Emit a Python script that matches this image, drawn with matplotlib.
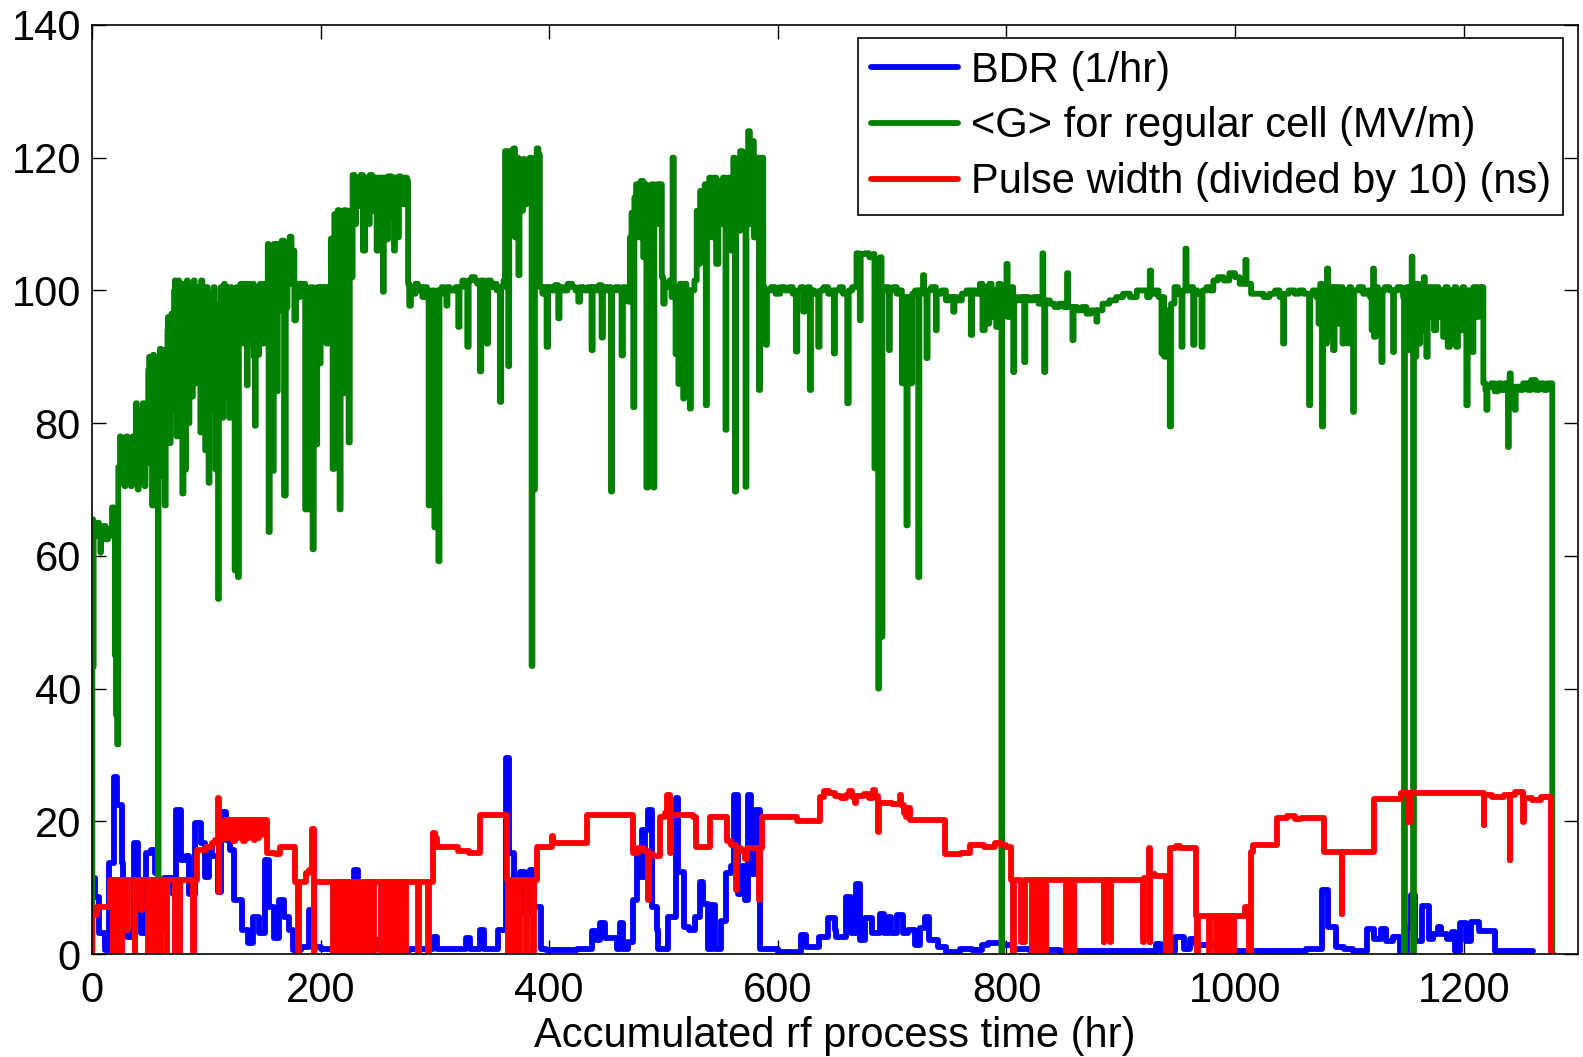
import matplotlib
matplotlib.use("Agg")
import matplotlib.pyplot as plt
import numpy as np

plt.rcParams['font.family'] = ['Liberation Sans', 'DejaVu Sans']

# all series are step samples: (accumulated time in hr, value)

# breakdown rate (1/hr)
bdr = [
    (0, 0), (0.2, 11.4), (2.8, 8.6), (5.8, 3.1), (11.4, 0.6), (15, 13.7), (19, 26.7), (22, 22.4),
    (26, 13.7), (27.4, 10.1), (29.5, 5.6), (30.3, 2.6), (34, 3.1), (37, 16.7), (40, 6.6), (43, 3.1),
    (47, 15.2), (51.5, 15.7), (55, 12.2), (58, 3.6), (63, 11.4), (70.5, 9.1), (73.5, 21.7), (78, 14.2),
    (82.5, 14.7), (85, 9.1), (90, 19.7), (95.5, 16.7), (98.5, 11.6), (102.5, 16.2), (105, 14.7),
    (110, 9.4), (113, 21.4), (117, 17.2), (121, 15.7), (124.5, 8.1), (131, 3.6), (136.5, 1.6),
    (141, 5.6), (146.5, 3.1), (151, 14.2), (155, 7.1), (159, 2.4), (164, 8.1), (168, 5.6), (172.5, 3.6),
    (176, 0.6), (183, 1.1), (190, 6.6), (194, 1.1), (200, 0.8), (220, 5.1), (224, 0.8), (229, 12.7),
    (233, 10.1), (236, 7.1), (240, 2.1), (250, 0.8), (260, 0.6), (278, 0.8), (298, 2.6), (302, 0.8),
    (327, 2.4), (331, 0.8), (339, 3.6), (343, 0.8), (355, 3.6), (362, 29.5), (365, 15.2), (369, 6.1),
    (374, 12.4), (378.5, 6.1), (383, 12.7), (387, 7.1), (392.5, 0.8), (397, 0.6), (424, 0.8),
    (437, 3.4), (441, 2.1), (444.3, 4.6), (448.7, 2.4), (458.9, 0.8), (461.8, 4.6), (464.7, 0.8),
    (469.1, 1.8), (473, 8.1), (476.4, 14.7), (479.3, 11.6), (481, 18.7), (482.5, 11.6), (484, 18.7),
    (486.6, 21.7), (489.5, 7.1), (493.9, 3.6), (495, 0.8), (504, 5.6), (510.5, 23.5), (513, 12.4),
    (517.5, 4.1), (522.5, 3.6), (527.4, 5.6), (531.7, 10.9), (534.7, 7.6), (539, 0.8), (542, 7.4),
    (544.9, 0.8), (550.5, 4.9), (555, 12.2), (559.4, 13.2), (562, 24), (565, 9.1), (567.5, 11.5),
    (569, 13.2), (571.1, 8.1), (573.5, 24), (576.5, 12), (580, 21.7), (584.2, 0.8), (600, 0.3),
    (620, 2.9), (625, 1.1), (636, 2.6), (644, 5.4), (649.8, 3.6), (651, 2.6), (660, 8.6), (664.4, 3.1),
    (668.5, 10.6), (671.7, 2.1), (676, 5.4), (682, 3.1), (689.2, 6.1), (693, 3.1), (696, 5.6),
    (699, 3.1), (704, 5.9), (709.6, 3.1), (714, 3.6), (719.8, 1.4), (724.2, 3.9), (729, 5.6),
    (732, 2.1), (740, 1.1), (747, 0.3), (759, 0.8), (770, 0.6), (779, 1.4), (784, 1.6), (797, 1.4),
    (805.8, 0.8), (820, 0.6), (846.6, 0.4), (930.7, 1.5), (935.2, 0.5), (947.3, 2.5), (954.9, 0.8),
    (961, 2.3), (965.5, 1.3), (988.2, 0.5), (1062.4, 0.8), (1076, 9.6), (1081.5, 4.1), (1088.1, 1),
    (1095.7, 0.8), (1103.3, 0.5), (1115.4, 3.8), (1121.4, 2.3), (1127.5, 3.8), (1132, 2),
    (1138.1, 2.5), (1144.2, 0.25), (1150.2, 4.1), (1154.2, 8.9), (1157.8, 2), (1163.9, 7.3),
    (1169.9, 2.3), (1172.9, 3), (1177.5, 4.1), (1180.5, 3), (1185, 2.3), (1189.6, 3.3),
    (1192.6, 0.5), (1197.2, 4.6), (1201.7, 2), (1206.2, 4.8), (1213.8, 3.5), (1227.5, 0.5),
    (1261, 0.5),
]

# <G> for regular cell (MV/m)
grad = [
    (0, 0), (0.3, 44), (0.6, 65.5), (1.0, 43.3), (1.4, 64), (3, 63), (4.5, 65), (6, 63), (7.3, 60.5),
    (7.8, 63), (10, 64.5), (12, 62.5), (14, 63), (16, 64), (17.5, 67.3), (19, 64), (20, 45), (21, 36),
    (22, 31.6), (23, 73.4), (24.5, 78), (25.3, 72), (26, 71), (26.5, 76), (27, 77), (27.8, 71),
    (28.5, 70.5), (29.2, 77), (30, 78), (31, 72), (31.7, 77.5), (32.5, 77), (33.2, 71), (34, 70.5),
    (34.8, 77), (35.5, 78), (36.2, 71.5), (37, 71), (37.8, 78), (38.5, 83), (39.2, 72), (40, 70),
    (40.8, 80), (41.5, 82), (42.2, 73), (43, 71), (43.8, 81), (44.5, 83), (45.2, 72), (46, 70.5),
    (46.8, 82), (47.5, 83), (48, 76), (48.5, 74), (49.2, 88), (50, 90), (50.8, 77), (51.5, 75),
    (52.5, 67.6), (53.5, 90.3), (54.2, 80), (55, 67.6), (56, 89.5), (56.6, 78), (57.2, 70), (57.7, 0),
    (58.2, 72), (59.5, 91.2), (60.2, 82), (61, 78), (61.8, 90), (62.5, 91), (63.6, 67.6), (64.5, 90),
    (65.5, 80), (66, 94), (66.5, 96), (67.2, 84), (68, 77), (68.8, 95), (69.5, 96.5), (70.2, 85),
    (71, 82), (71.8, 100), (72.5, 101.5), (73.2, 84), (74, 78), (74.8, 100), (75.5, 101.5), (76.2, 88),
    (77, 85), (78, 101), (79, 69.4), (80, 100.5), (80.8, 86), (81.5, 73), (82.2, 99), (83, 101.5),
    (83.8, 88), (84.5, 80), (85.2, 99), (86, 100.5), (86.8, 90), (87.5, 84), (88.2, 100), (89, 101.5),
    (89.8, 91), (90.5, 86), (91.2, 99), (92, 100.5), (92.8, 90), (93.5, 86), (94.8, 78.6),
    (95.5, 101.5), (96.5, 88), (97.5, 100.5), (98.2, 87), (99, 75.9), (99.8, 98), (100.5, 100.5),
    (101.2, 84), (102, 71), (102.8, 97), (103.5, 99.5), (104.2, 88), (105, 82), (105.8, 98),
    (106.5, 100.5), (107.2, 86), (108, 73), (108.8, 95), (109.5, 80), (110.3, 53.5), (111, 85),
    (111.8, 98), (112.5, 100.5), (113.2, 88), (114, 80.8), (114.8, 99), (115.5, 101), (116.2, 90),
    (117, 84), (117.8, 99), (118.5, 100.5), (119.2, 88), (120, 80.8), (120.8, 98), (121.5, 100.5),
    (122.2, 90), (123, 85), (124.8, 57.8), (125.5, 90), (126.5, 100.5), (127.7, 56.8), (128.5, 92),
    (129.2, 99), (130, 101), (131, 95), (132, 92), (133, 99), (134, 101), (135.5, 85.7), (136.2, 99),
    (137, 101), (138, 95), (139, 92), (139.8, 99), (140.5, 101), (141.5, 90), (142.5, 79.6),
    (143.2, 98), (144, 100.5), (144.8, 94), (145.5, 90.3), (146.2, 99), (147, 101), (148, 95),
    (149, 92), (150, 99), (151, 101), (152.5, 92), (153.8, 107),
    (154.5, 63.6), (155.5, 105), (157.5, 72.8), (159, 107), (161, 84.8), (162.5, 107), (164, 97),
    (166, 107.5), (168, 69.1), (169.5, 97.4), (171, 107), (173, 108.1), (174.5, 101), (175.5, 106),
    (177, 95.5), (178.5, 101), (180, 99), (182, 101), (184, 99.5), (185.5, 101), (186.5, 67),
    (188.5, 67), (189.5, 99), (191, 100.5), (193, 61), (194, 90), (195.5, 76.8), (197, 100.5),
    (198.5, 89), (200, 100.5), (202, 92.5), (203.5, 100.5), (205, 92), (207, 100.5), (209, 107.8),
    (210.5, 73.1), (212, 111.5), (213.5, 75.9), (215, 112.1), (216.6, 67), (217.5, 111),
    (219, 84.5), (220.5, 112.1), (222, 97), (223.5, 112), (224.5, 77.1), (225.5, 112), (227, 102),
    (228, 117.4), (229.5, 110), (231, 117), (233, 112.7), (235, 117.4), (237, 106), (239, 117),
    (241, 110), (243, 117.4), (245, 112), (247, 117), (249, 106), (250.5, 117), (254.5, 99.8),
    (255.3, 117), (257.7, 107.7), (259, 117.2), (262, 111), (263, 117), (264.2, 106), (265, 117),
    (267, 108), (268.5, 117.2), (270, 116.5), (272.3, 113), (273.5, 117), (275.5, 116.5),
    (276.5, 101), (277.5, 97.7), (279, 100.5), (281, 99.5), (283, 101), (285, 100), (287, 100.5),
    (289, 99), (291, 100.5), (293, 99.5), (294.5, 67.6), (295.5, 99), (297, 100), (299.5, 64.3),
    (300.5, 99), (302, 100), (303, 59.2), (304, 100), (306, 100.5), (308, 99.5), (310, 97.7),
    (311, 100.5), (313, 100), (318, 100.5), (320.4, 94.5), (321.5, 100.5), (324, 101.5), (326, 101),
    (328.3, 91.5), (329.5, 101.5), (332, 102), (335, 101.5), (337, 101), (339.4, 87.8),
    (340.5, 101.5), (343, 101), (345.2, 92), (346.5, 101.5), (349, 100.5), (352, 101), (354, 100),
    (356.9, 83.2), (358, 100.5), (360, 101.5), (361.3, 121), (362.5, 110), (363.5, 120.5),
    (364.1, 88.6), (365, 121), (367, 112), (368.5, 121.4), (370, 108), (371.5, 120), (373, 102.3),
    (374, 119), (375.5, 112), (377, 119.8), (378.5, 113), (380, 118.5), (381.5, 114), (383, 120),
    (384.6, 43.4), (385.3, 100), (386.6, 70), (387.5, 115), (389, 121.4), (390.5, 120.5),
    (391.8, 100.5), (394, 99.5), (396, 100.5), (397.7, 91.5), (399, 100.5), (402, 100),
    (405, 100.8), (407.9, 95.8), (409, 100.5), (412, 100), (416, 101), (420, 100.5), (423, 100),
    (425.4, 98.3), (427, 100.5), (430, 100), (434, 100.5), (437, 91), (438, 100.5), (441, 100),
    (443.5, 100.8), (445.8, 92.9), (447, 100.5), (450, 100), (452, 100.5), (454, 69.7), (455, 100),
    (458, 100.5), (461, 100), (463.3, 90.2), (464.5, 100.5), (467, 100), (469.1, 98.3), (470.6, 108),
    (472, 111.7), (473.5, 82.4), (474.5, 114), (476, 116), (478, 108), (480, 116.5), (482.2, 105),
    (483.5, 116), (485, 70.3), (486.5, 115), (488, 100), (489.5, 116), (491, 70.3), (492, 112),
    (494, 116), (496, 110), (497.5, 116), (498.5, 102), (499.7, 98), (501, 101), (503, 100.5),
    (505, 101.5), (507, 99), (507.9, 120), (509, 100.5), (510.5, 90.4), (511.5, 100), (513, 85.9),
    (514.3, 101), (517.2, 83.7), (518, 101), (520, 100), (523, 82.2), (524, 100), (527, 101.5),
    (529, 112), (530.5, 104), (532, 115), (534, 106), (536, 116), (537, 82.7), (538, 114), (540, 117),
    (542, 108), (544, 117), (546, 104), (548, 116.5), (550, 110), (552, 117), (554.2, 79), (555, 112),
    (557, 117), (559, 106), (561, 120), (562.4, 69.7), (563.5, 118), (565, 109), (567, 121),
    (569, 112), (570.5, 120), (571.7, 70.4), (572.5, 116), (574, 124), (575.5, 110), (577, 122.5),
    (579, 108), (581, 120), (583.4, 85), (584.5, 119.5), (586, 120), (587.2, 100.5), (588.5, 99),
    (589.5, 91.8), (590.5, 100), (594, 100.5), (598, 99.5), (602, 100.5), (606, 100), (610, 100.5),
    (613, 99.5), (615.8, 90.8), (617, 100), (620, 100.5), (622.2, 96.8), (623.5, 100), (626, 100.5),
    (628, 85), (629, 100), (632, 99.5), (635.3, 91.5), (636.5, 100), (640, 100.5), (644, 99.5),
    (647, 100), (649, 90.5), (650, 100), (654, 100.5), (657, 99.5), (660.7, 83), (662, 100),
    (665, 100.5), (668.8, 105.6), (671, 105), (671.7, 95.5), (672.5, 105.5), (676, 105.6),
    (680, 105), (684, 105.5), (684.5, 73.2), (685.5, 104), (687, 100), (687.8, 40), (688.5, 100),
    (689.5, 105), (690.7, 47.8), (691.5, 100), (694, 100.5), (697.1, 91), (698, 100), (701, 100.5),
    (704, 99.5), (707, 100), (708.5, 86), (710, 99), (712.5, 64.6), (713.5, 99), (716, 86),
    (717.5, 99.5), (720, 100), (722.8, 56.8), (723.8, 100), (727, 102.3), (728, 99.5), (730, 89.8),
    (731, 100), (734, 100.5), (738.2, 94), (739, 99.5), (743, 100), (747, 98.5), (750, 99),
    (753.4, 96.8), (754.5, 99), (757, 98.5), (761, 99.5), (765, 100), (768.8, 93.3), (770, 100),
    (773, 99.5), (776.7, 101), (779, 94), (781, 100.5), (783, 95), (785, 101), (787, 96), (789, 100),
    (791, 94.5), (793, 101), (795, 95), (795.6, 0), (796.3, 97), (798, 100), (800, 104), (801, 96),
    (803, 100.5), (805.9, 87.7), (806.8, 99), (809, 98.5), (812, 99), (815.5, 89.2), (816.5, 99),
    (820, 98.5), (824, 99), (828, 98), (831.5, 105.6), (832.2, 98), (833, 87.7), (834, 98.5),
    (838, 98), (842, 97.5), (846, 98), (850, 97.5), (853, 102.6), (854, 97.5), (857.7, 92.5),
    (858.7, 97.5), (862, 97), (866, 97.5), (870, 96.5), (874, 97), (878.7, 95.3), (879.5, 97),
    (884, 98), (890, 98.5), (896, 99), (902, 99.5), (908, 99), (914, 100), (920, 100), (923, 99),
    (925.4, 103), (926.5, 99.5), (930, 100), (933, 99), (935.6, 90.5), (936.5, 99), (938, 90),
    (939.5, 97), (941, 95), (942.9, 79.5), (944, 98), (947, 100.5), (950, 99.5), (953.1, 91.5),
    (954, 100), (956.6, 106.3), (957.5, 100), (960, 100.5), (963.3, 91.8), (964.5, 100), (967, 99.5),
    (970.6, 91.5), (971.5, 100), (975, 100.5), (978, 100), (981, 101.5), (985, 102), (990, 101.5),
    (995, 102.6), (1000, 102), (1004, 101), (1009, 104.6), (1010, 101), (1014, 99.5), (1020, 99.5),
    (1025, 99), (1030, 99.5), (1035, 100), (1039, 99), (1042, 92), (1043, 99.5), (1047, 100),
    (1052, 99.5), (1056, 100), (1060, 99.5), (1064.7, 82.7), (1065.7, 99.5), (1068, 100), (1071, 99),
    (1073, 95), (1074.5, 101), (1076, 79.5), (1077, 100), (1078.5, 92), (1080.4, 103.3), (1081.5, 93),
    (1083, 100.5), (1085.7, 91), (1087, 100.5), (1089, 95), (1091, 100.5), (1094, 92), (1095.5, 100),
    (1097, 93), (1099, 92), (1100, 100.5), (1101.5, 96), (1103.2, 81.7), (1104, 100), (1108, 100.5),
    (1112, 99.5), (1116, 100), (1118, 99), (1119.5, 94), (1120.7, 103.3), (1121.5, 93), (1123, 100.5),
    (1125, 94), (1126.5, 100), (1128, 89.2), (1129, 100), (1131, 100.5), (1135, 100), (1138.2, 90.7),
    (1139, 100), (1142, 100.5), (1145.5, 100), (1147, 99), (1147.8, 0), (1148.6, 93), (1150, 100.5),
    (1151.5, 91), (1153, 100), (1154.5, 105.1), (1155.2, 96), (1155.7, 0), (1156.5, 90),
    (1158.6, 101), (1160.5, 92), (1162, 100.5), (1163.5, 94), (1165, 102), (1166, 95), (1167.3, 90),
    (1168.5, 100.5), (1170, 96), (1172, 100.5), (1174, 94), (1176, 100.5), (1178, 96), (1180, 100),
    (1182, 93), (1184, 100.5), (1186, 91.5), (1188, 100), (1190, 92), (1192, 100.5), (1193.5, 91.5),
    (1195, 100), (1197, 94), (1199, 100.5), (1200.5, 95), (1202.3, 82.7), (1203.5, 100),
    (1205.5, 96), (1207.6, 90.7), (1208.5, 100.5), (1211, 96), (1213, 100.5), (1215, 97),
    (1216.5, 100.5), (1217.2, 86), (1219, 85), (1219.8, 82), (1220.8, 85.5), (1224, 86),
    (1227, 84.8), (1230, 86), (1233, 85), (1236, 86), (1238.8, 76.4), (1239.5, 85), (1240.2, 87.5),
    (1241.2, 85), (1244.6, 82), (1245.5, 85.5), (1249, 85), (1252, 86), (1256, 85), (1259, 86.5),
    (1263, 85), (1266, 86), (1270, 85), (1273, 86), (1277, 86), (1277.5, 0), (1278, 0),
]

# pulse width divided by 10 (ns)
pulse = [
    (0, 0), (0.2, 5.9), (4.2, 7.1), (15.8, 11.1), (18.5, 0), (19, 11.1), (21.4, 0), (21.9, 11.1),
    (25.8, 0), (26.3, 11.1), (29.2, 3.6), (31.8, 11.1), (37.4, 0), (37.9, 11.1), (43.2, 6.6),
    (43.7, 11.1), (49.1, 0), (49.6, 11.1), (52, 0), (52.5, 11.1), (56.4, 0), (56.9, 11.1), (59.3, 0),
    (59.8, 11.1), (61, 3.6), (61.5, 11.1), (65.1, 0), (65.6, 11.1), (72.4, 0), (72.9, 11.1),
    (76.8, 0), (77.3, 11.1), (88.4, 0), (88.9, 11.1), (91.6, 15.7), (100, 16.2), (105, 16.7),
    (108, 17.2), (110.3, 23.5), (110.7, 9.4), (111.2, 17), (113, 19.5), (114.5, 17.5), (116, 20.2),
    (117.5, 17.5), (119, 20.2), (120.5, 18), (122, 20.2), (123.5, 17), (125, 20.2), (126.5, 17.5),
    (128, 20.2), (129.5, 18), (131, 20.2), (132.5, 17), (134, 20.2), (135.5, 17.5), (137, 20.2),
    (138.5, 18), (140, 20.2), (141.5, 17.2), (143, 20.2), (144.5, 17.5), (146, 20.2), (147.5, 18),
    (149, 20.2), (152.7, 15.2), (160, 15), (164.8, 16.2), (177.8, 10.9), (180.4, 0), (180.9, 10.9),
    (187.5, 12.2), (190, 12.7), (192.8, 18.9), (194, 0), (194.5, 10.9),
    (210.8, 0), (211.3, 10.9), (212.8, 0), (213.3, 10.9), (214.8, 0), (215.3, 10.9), (216.8, 0),
    (217.3, 10.9), (218.8, 0), (219.3, 10.9), (220.8, 0), (221.3, 10.9), (222.8, 0), (223.3, 10.9),
    (224.8, 0), (225.3, 10.9), (226.8, 0), (227.3, 10.9), (228.8, 0), (229.3, 10.9), (230.8, 0),
    (231.3, 10.9), (232.8, 0), (233.3, 10.9), (234.8, 0), (235.3, 10.9), (236.8, 0), (237.3, 10.9),
    (239.3, 0), (239.8, 10.9), (242.8, 0), (243.3, 10.9), (245.8, 0), (246.3, 10.9), (252.8, 0),
    (253.3, 10.9), (254.8, 0), (255.3, 10.9), (256.8, 0), (257.3, 10.9), (258.8, 0), (259.3, 10.9),
    (260.8, 0), (261.3, 10.9), (262.8, 0), (263.3, 10.9), (264.8, 0), (265.3, 10.9), (266.8, 0),
    (267.3, 10.9), (269.3, 0), (269.8, 10.9), (271.8, 0), (272.3, 10.9), (273.8, 0), (274.3, 10.9),
    (285.2, 0), (285.7, 10.9), (294, 0), (294.5, 10.9),
    (298.3, 18.2), (300, 17.5), (302, 16.2), (320, 15.5), (330, 15.2), (339.4, 21), (362.7, 11.1),
    (364, 0), (364.5, 11.1), (368.4, 0), (368.9, 11.1), (373.8, 0), (374.3, 11.1), (379.8, 0),
    (380.3, 11.1), (385.8, 0), (386.3, 11.1), (389, 16.2), (402, 17.8), (403, 16.7), (432.7, 21),
    (473.5, 15.2), (478, 16), (483, 15.5), (486.4, 8.1), (487, 15), (491, 14.7), (496.8, 20.7),
    (501, 21.2), (503, 24), (505.5, 15.2), (506.5, 21), (526, 20.7), (528.8, 16.2), (540.7, 20.7),
    (555.5, 17), (559, 16.5), (563.6, 9.6), (564.3, 16), (568, 15.5), (571, 14.3), (573, 16),
    (583.4, 8.1), (584.6, 16), (585.7, 20.7), (616.5, 20), (636.7, 23.7), (640, 24.5), (645, 24.2),
    (650, 23.8), (655, 23.5), (660, 24), (662, 24.6), (665, 23.6), (667.5, 22.8), (668.5, 23.8),
    (675, 24.1), (680, 23.5), (683, 24.7), (685, 23.8), (687.5, 18.4), (688.5, 22.7), (700, 22.6),
    (706.5, 24), (708, 22.5), (710, 21.3), (712, 20.7), (713.5, 22), (716, 20.2), (745.8, 15),
    (760, 15.2), (768, 16.5), (780, 16.2), (790, 16.7), (795, 16.5), (800, 16.2), (804.4, 11.1),
    (805.6, 0), (806.2, 11.1), (813, 1.8), (816, 11.1), (822.5, 0), (823, 11.1), (824.5, 0),
    (825, 11.1), (826.5, 0), (827, 11.1), (828.5, 0), (829, 11.1), (830.5, 0), (831, 11.1),
    (832.5, 0), (833, 11.1), (834.5, 0), (835, 11.1), (852, 0), (853, 11.1), (854.5, 0),
    (855.3, 11.1), (857, 0), (857.8, 11.1), (858.8, 0), (859.5, 11.1), (885, 1.8), (885.5, 11.1),
    (891, 1.8), (891.5, 11.1), (919.8, 1.8), (920.3, 11.4), (925, 16), (925.4, 1.8), (925.9, 12.1),
    (930, 11.8), (939.7, 0), (942.8, 16), (948, 16.3), (952, 16), (965.5, 5.8), (966.8, 0),
    (967.3, 5.8), (977.4, 0), (977.9, 5.8), (983.5, 0), (984, 5.8), (988, 0), (988.5, 5.8),
    (992.5, 0), (993, 5.8), (995.6, 0), (996.1, 5.8), (998.6, 0), (999.1, 5.8), (1009, 7.1),
    (1012.2, 0), (1013.8, 15.4), (1016, 16.5), (1036.7, 20.5), (1045, 20.8), (1052, 20.3),
    (1058, 20.5), (1077.5, 15.4), (1093.4, 6.1), (1093.9, 15.4), (1121.5, 23.3), (1145.5, 24.2),
    (1151.7, 19.9), (1152.8, 24.2), (1217.4, 19.4), (1218, 24), (1225, 23.6), (1235, 24),
    (1240.1, 14.1), (1240.7, 24), (1245, 24.4), (1251.8, 19.9), (1252.4, 23.5), (1260, 23.2),
    (1268, 23.7), (1276.7, 0), (1278, 0),
]

series = [
    (bdr, 'blue', 'BDR (1/hr)'),
    (grad, 'green', '<G> for regular cell (MV/m)'),
    (pulse, 'red', 'Pulse width (divided by 10) (ns)'),
]
colors = {'blue': (0, 0, 1), 'green': (0, 0.5, 0), 'red': (1, 0, 0)}

fig = plt.figure(figsize=(15.83, 10.57), dpi=100)
ax = fig.add_axes([92 / 1583, 1 - 954 / 1057, (1578 - 92) / 1583, (954 - 25) / 1057])

for data, c, lab in series:
    t, v = np.array(data).T
    ax.step(t, v, where='post', color=colors[c], lw=4.2, label=lab,
            solid_joinstyle='round', solid_capstyle='round')

ax.set_xlim(0, 1300)
ax.set_ylim(0, 140)
ax.set_xticks(np.arange(0, 1201, 200))
ax.set_yticks(np.arange(0, 141, 20))
ax.tick_params(direction='in', top=True, right=True, length=10, width=1,
               labelsize=30, colors='black')
ax.tick_params(axis='y', pad=8)
ax.tick_params(axis='x', pad=12)
for s in ax.spines.values():
    s.set_linewidth(1.2)

ax.set_xlabel('Accumulated rf process time (hr)', fontsize=30, labelpad=4)

leg = ax.legend(loc='upper right', bbox_to_anchor=(0.99, 0.986), borderaxespad=0,
                fancybox=False, edgecolor='black', framealpha=1, fontsize=30,
                handlelength=2.1, handletextpad=0.3, labelspacing=0.38, borderpad=0.3)
leg.get_frame().set_linewidth(1.2)

fig.savefig('out.png', dpi=100)
